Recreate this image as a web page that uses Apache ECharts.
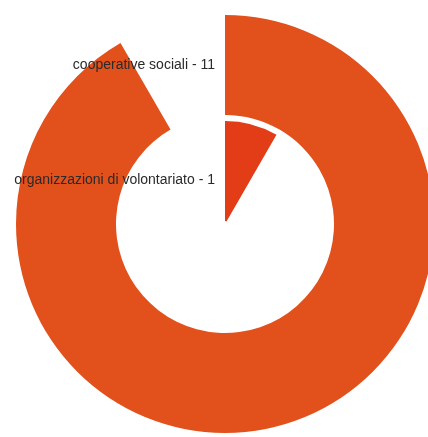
<!DOCTYPE html>
<html>
<head>
<meta charset="utf-8">
<script src="https://cdn.jsdelivr.net/npm/echarts@6/dist/echarts.min.js"></script>
<style>
  html, body { margin: 0; padding: 0; background: #ffffff; }
  #chart { width: 428px; height: 437px; }
</style>
</head>
<body>
<div id="chart"></div>
<script>
// Radial bars: each ring sweeps an angle proportional to its count
const categories = ['organizzazioni di volontariato', 'cooperative sociali'];
const counts = [1, 11];
const total = 12;
const colors = ['#E23D17', '#E2501B'];

const chart = echarts.init(document.getElementById('chart'), null, { renderer: 'canvas' });

const labelFont = {
  color: '#2a2a2a',
  fontSize: 14,
  fontFamily: 'Liberation Sans, Arial, sans-serif'
};

chart.setOption({
  backgroundColor: '#ffffff',
  animation: false,
  polar: { center: [225, 224], radius: [0, 212] },
  angleAxis: {
    type: 'value',
    min: 0,
    max: total,
    startAngle: 90,
    clockwise: true,
    show: false
  },
  radiusAxis: {
    type: 'category',
    data: categories,
    z: 10,
    axisLine: { show: false },
    axisTick: { show: false },
    splitLine: { show: false },
    axisLabel: Object.assign({
      interval: 0,
      showMinLabel: true,
      showMaxLabel: true,
      hideOverlap: false,
      margin: 10,
      formatter: function (v) {
        const i = categories.indexOf(v);
        const text = v + ' - ' + counts[i];
        // the inner label sits a little lower, near the middle of its wedge
        return i === 0 ? '{low|' + text + '}' : '{std|' + text + '}';
      },
      rich: {
        low: Object.assign({ padding: [18, 0, 0, 0] }, labelFont),
        std: Object.assign({}, labelFont)
      }
    }, labelFont)
  },
  series: [{
    type: 'bar',
    coordinateSystem: 'polar',
    barWidth: 100,
    data: counts.map(function (c, i) {
      return { value: c, itemStyle: { color: colors[i] } };
    })
  }]
});
</script>
</body>
</html>
